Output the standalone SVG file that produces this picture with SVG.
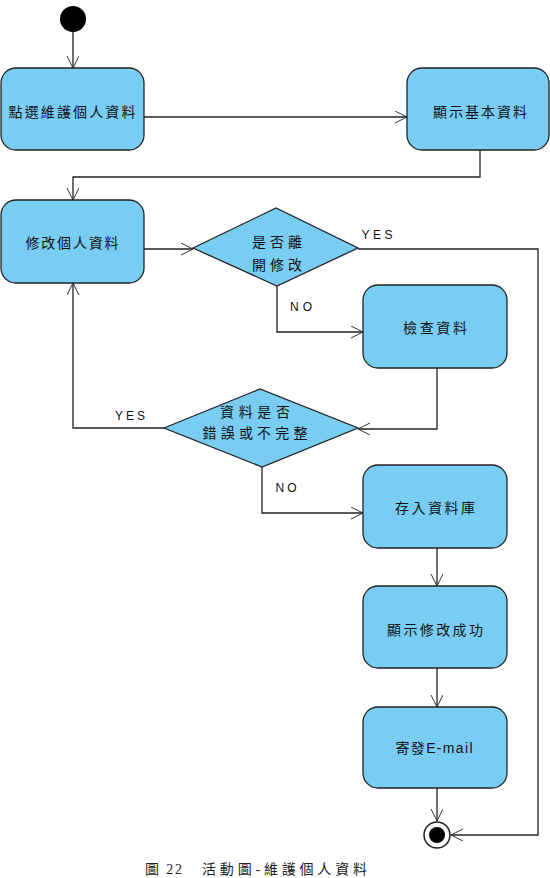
<svg xmlns="http://www.w3.org/2000/svg" width="550" height="878" viewBox="0 0 550 878">
<style>
.node{fill:#7ACDF2;stroke:#222;stroke-width:1.3}
.lbl{font-family:"Liberation Sans","Noto Sans CJK TC",sans-serif;font-size:14px;fill:#111;text-anchor:middle;dominant-baseline:central}
.g{font-family:"Liberation Sans",sans-serif;font-size:12px;fill:#111;text-anchor:middle;dominant-baseline:central}
.edge{fill:none;stroke:#222;stroke-width:1.3}
.cap{font-family:"Liberation Serif","Noto Sans CJK TC",serif;font-size:14px;fill:#222}
</style>
<defs>
<marker id="arr" markerUnits="userSpaceOnUse" markerWidth="14" markerHeight="14" refX="12" refY="6" orient="auto">
<path d="M0,0 L12,6 L0,12" fill="none" stroke="#333" stroke-width="1"/>
</marker>
</defs>
<rect width="550" height="878" fill="#fff"/>
<g id="connectors">
<path class="edge" d="M73,32 V68" marker-end="url(#arr)"/>
<path class="edge" d="M144,117 H407" marker-end="url(#arr)"/>
<path class="edge" d="M480,150 V177 H73 V200" marker-end="url(#arr)"/>
<path class="edge" d="M144,249 H193" marker-end="url(#arr)"/>
<path class="edge" d="M358,249 H538 V835 H451" marker-end="url(#arr)"/>
<path class="edge" d="M277,286 V332 H363" marker-end="url(#arr)"/>
<path class="edge" d="M437,368 V429 H358" marker-end="url(#arr)"/>
<path class="edge" d="M164,428 H73 V283" marker-end="url(#arr)"/>
<path class="edge" d="M262,467 V513 H363" marker-end="url(#arr)"/>
<path class="edge" d="M437,548 V586" marker-end="url(#arr)"/>
<path class="edge" d="M437,668 V707" marker-end="url(#arr)"/>
<path class="edge" d="M437,788 V821" marker-end="url(#arr)"/>
<text class="g" x="377" y="235" textLength="31" lengthAdjust="spacing">YES</text>
<text class="g" x="301" y="307" textLength="22" lengthAdjust="spacing">NO</text>
<text class="g" x="130" y="416" textLength="30" lengthAdjust="spacing">YES</text>
<text class="g" x="286" y="488" textLength="21" lengthAdjust="spacing">NO</text>
</g>
<g id="start"><circle cx="73" cy="19" r="13" fill="#000"/></g>
<g id="n1"><rect class="node" x="1" y="68" width="143" height="82" rx="15"/><text class="lbl" x="72" y="112" textLength="127" lengthAdjust="spacing">點選維護個人資料</text></g>
<g id="n2"><rect class="node" x="407" y="68" width="142" height="82" rx="15"/><text class="lbl" x="480" y="112" textLength="94" lengthAdjust="spacing">顯示基本資料</text></g>
<g id="n3"><rect class="node" x="1" y="200" width="143" height="83" rx="15"/><text class="lbl" x="72" y="243" textLength="93" lengthAdjust="spacing">修改個人資料</text></g>
<g id="d1"><polygon class="node" points="193,248 276,208 358,248 277,286"/><text class="lbl" x="277" y="242" textLength="50" lengthAdjust="spacing">是否離</text><text class="lbl" x="277" y="265" textLength="50" lengthAdjust="spacing">開修改</text></g>
<g id="n4"><rect class="node" x="363" y="285" width="144" height="83" rx="15"/><text class="lbl" x="435" y="328" textLength="64" lengthAdjust="spacing">檢查資料</text></g>
<g id="d2"><polygon class="node" points="164,428 260,389 358,428 262,467"/><text class="lbl" x="255" y="412" textLength="70" lengthAdjust="spacing">資料是否</text><text class="lbl" x="255" y="433" textLength="105" lengthAdjust="spacing">錯誤或不完整</text></g>
<g id="n5"><rect class="node" x="363" y="465" width="144" height="83" rx="15"/><text class="lbl" x="435" y="508" textLength="80" lengthAdjust="spacing">存入資料庫</text></g>
<g id="n6"><rect class="node" x="363" y="586" width="144" height="82" rx="15"/><text class="lbl" x="435" y="630" textLength="96" lengthAdjust="spacing">顯示修改成功</text></g>
<g id="n7"><rect class="node" x="363" y="707" width="144" height="81" rx="15"/><text class="lbl" x="434" y="748" textLength="77" lengthAdjust="spacing">寄發E-mail</text></g>
<g id="end"><circle cx="437" cy="835" r="13" fill="#fff" stroke="#222" stroke-width="1.5"/><circle cx="437" cy="835" r="8" fill="#000"/></g>
<g id="caption"><text class="cap" x="145" y="874" textLength="37" lengthAdjust="spacing">圖 22</text><text class="cap" x="202" y="874" textLength="165" lengthAdjust="spacing">活動圖-維護個人資料</text></g>
</svg>
